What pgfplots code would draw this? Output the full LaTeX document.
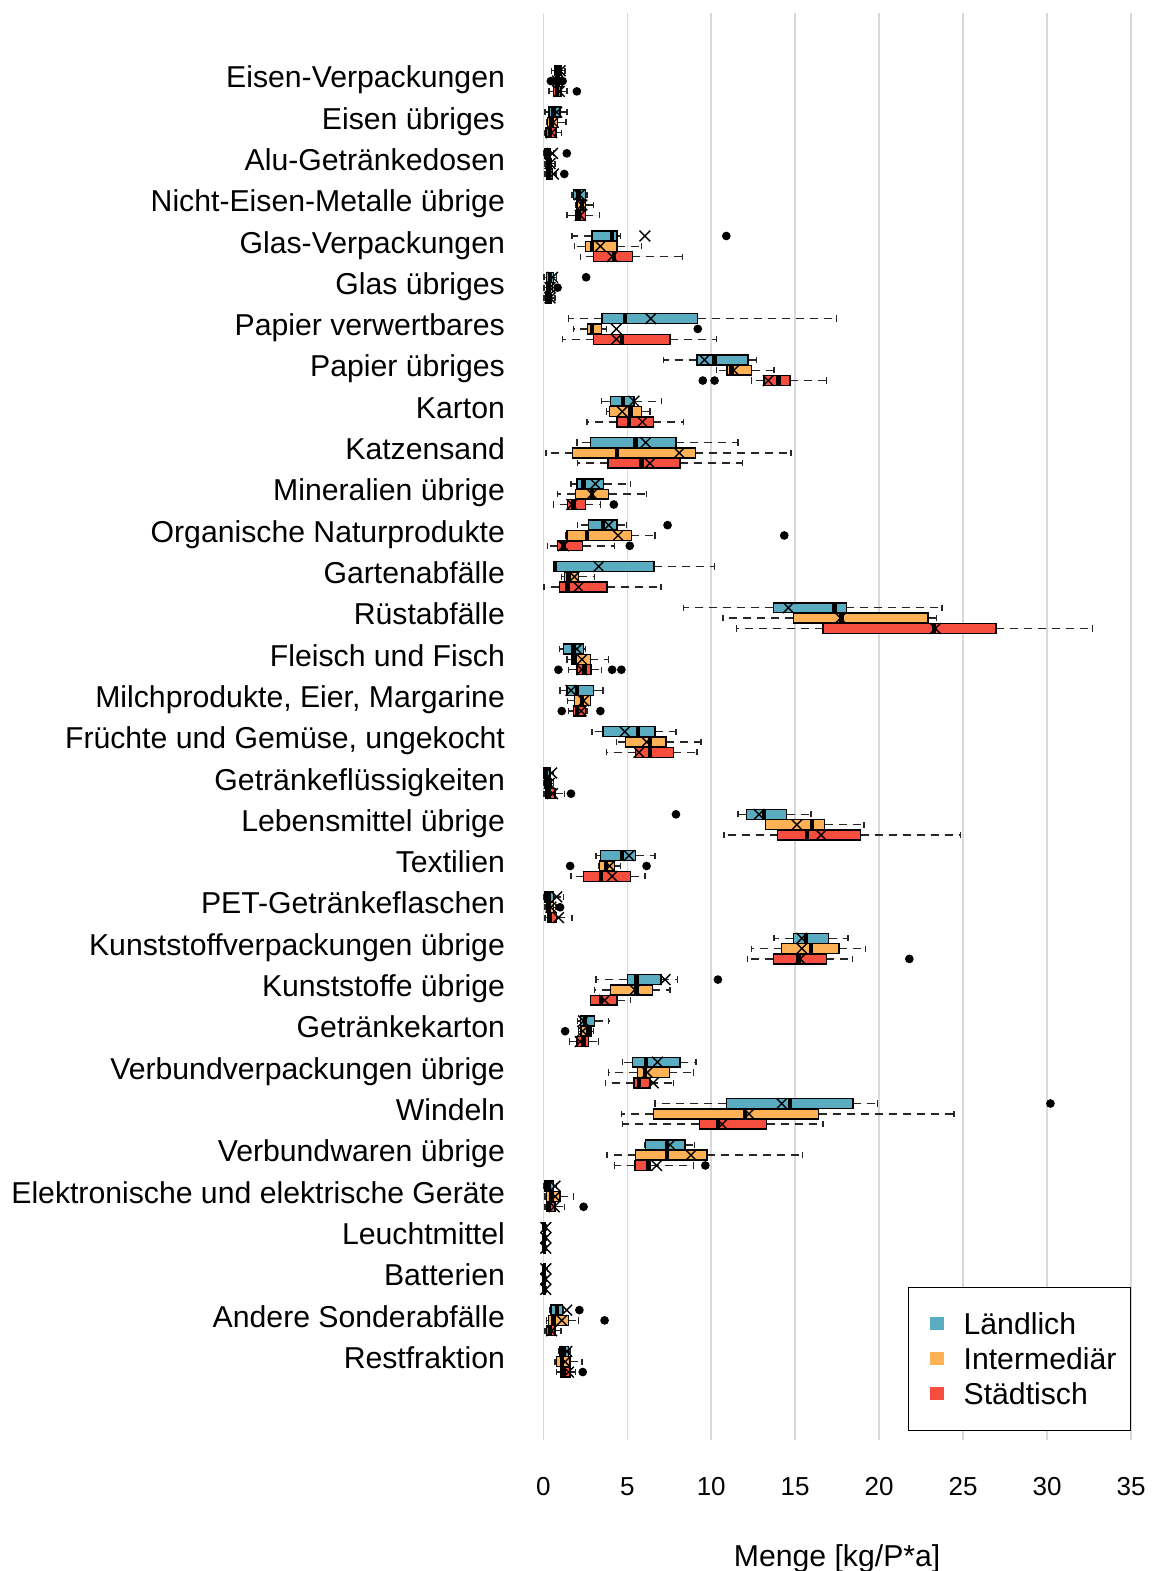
\documentclass[border=0pt]{standalone}
\usepackage{pgfplots}
\pgfplotsset{compat=1.18}
\usepgfplotslibrary{statistics}
\usetikzlibrary{calc}
\usepackage{fontspec}
\setmainfont{Liberation Sans}
\definecolor{cL}{RGB}{90,172,192}
\definecolor{cI}{RGB}{255,178,85}
\definecolor{cR}{RGB}{245,77,62}
\definecolor{gridc}{RGB}{217,217,217}
\pgfplotsset{bxs/.style={
    forget plot, draw=black, line width=0.7pt, solid,
    mark=*, mark size=1.8pt, mark options={fill=black, draw=black, solid},
    boxplot/draw direction=x,
    boxplot/box extend=0.24,
    boxplot/whisker extend=0.15,
    boxplot/every whisker/.style={dash pattern=on 4pt off 3pt, line width=0.7pt, draw=black!85},
    boxplot/every median/.style={line width=2.2pt, draw=black},
    boxplot/every average/.style={/tikz/mark=x, /tikz/mark size=3.8pt, /tikz/line width=0.75pt, /tikz/draw=black, /tikz/solid},
}}
\newcommand{\bp}[9]{\addplot[bxs, fill=#1, boxplot prepared={draw position=#2, lower whisker=#3, lower quartile=#4, median=#5, upper quartile=#6, upper whisker=#7, average=#8}] coordinates {#9};}
\begin{document}
\begin{tikzpicture}
\begin{axis}[
 scale only axis, width=293.85pt, height=713.5pt,
 xmin=0, xmax=35, ymin=-33.895, ymax=0.648,
 clip=false,
 axis line style={draw=none},
 xtick={0,5,...,35}, xmajorgrids, major grid style={gridc, line width=0.75pt},
 ytick={-32,-31,...,-1},
 yticklabels={Restfraktion, Andere Sonderabfälle, Batterien, Leuchtmittel, Elektronische und elektrische Geräte, Verbundwaren übrige, Windeln, Verbundverpackungen übrige, Getränkekarton, Kunststoffe übrige, Kunststoffverpackungen übrige, PET-Getränkeflaschen, Textilien, Lebensmittel übrige, Getränkeflüssigkeiten, {Früchte und Gemüse, ungekocht}, {Milchprodukte, Eier, Margarine}, Fleisch und Fisch, Rüstabfälle, Gartenabfälle, Organische Naturprodukte, Mineralien übrige, Katzensand, Karton, Papier übriges, Papier verwertbares, Glas übriges, Glas-Verpackungen, Nicht-Eisen-Metalle übrige, Alu-Getränkedosen, Eisen übriges, Eisen-Verpackungen},
 tick style={draw=none},
 /pgf/number format/assume math mode=true,
 xticklabel style={font=\fontsize{13}{15}\selectfont, inner sep=0pt, anchor=center, yshift=-23.5pt},
 yticklabel style={font=\fontsize{15.1}{18}\selectfont, inner sep=0pt, anchor=east, xshift=-19pt, yshift=0.5pt, text height=10.9pt, text depth=3.2pt},
 xlabel={Menge [kg/P*a]},
 xlabel style={font=\fontsize{15.1}{18}\selectfont, at={(rel axis cs:0.5,0)}, anchor=center, yshift=-59.5pt, inner sep=0pt},
 legend style={at={(1,0)}, anchor=south east, yshift=4.5pt, draw=black, line width=0.6pt, fill=white, font=\fontsize{15.1}{18}\selectfont, inner xsep=5pt, inner ysep=10.8pt, row sep=2.5pt, column sep=8pt, nodes={inner sep=2pt, text height=11pt, text depth=0pt}, cells={anchor=west}},
 legend image code/.code={\path (0pt,0pt); \fill[#1] (6pt,-3.3pt) rectangle (12.6pt,3.3pt);},
]
\addlegendimage{fill=cL, draw=none}\addlegendentry{Ländlich}
\addlegendimage{fill=cI, draw=none}\addlegendentry{Intermediär}
\addlegendimage{fill=cR, draw=none}\addlegendentry{Städtisch}
% 1 Eisen-Verpackungen
\bp{cL}{-0.75}{0.5}{0.7}{0.9}{1.1}{1.3}{1.0}{}
\bp{cI}{-1}{0.65}{0.75}{0.85}{0.95}{1.0}{0.85}{(0,0.45) (0,1.15)}
\bp{cR}{-1.25}{0.35}{0.6}{0.8}{1.05}{1.4}{0.95}{(0,2.0)}
% 2 Eisen übriges
\bp{cL}{-1.75}{0.1}{0.35}{0.6}{1.0}{1.4}{0.8}{}
\bp{cI}{-2}{0.2}{0.25}{0.5}{0.85}{1.35}{0.6}{}
\bp{cR}{-2.25}{0.1}{0.15}{0.4}{0.75}{1.1}{0.5}{}
% 3 Alu
\bp{cL}{-2.75}{0.05}{0.1}{0.2}{0.4}{0.6}{0.55}{(0,1.4)}
\bp{cI}{-3}{0.1}{0.2}{0.35}{0.5}{0.7}{0.4}{}
\bp{cR}{-3.25}{0.1}{0.2}{0.35}{0.55}{0.8}{0.6}{(0,1.25)}
% 4 NE-Metalle
\bp{cL}{-3.75}{1.7}{1.8}{2.1}{2.5}{2.6}{2.15}{}
\bp{cI}{-4}{1.9}{2.0}{2.3}{2.5}{3.0}{2.3}{}
\bp{cR}{-4.25}{1.4}{1.9}{2.1}{2.5}{3.35}{2.2}{}
% 5 Glas-V
\bp{cL}{-4.75}{1.7}{2.9}{4.1}{4.4}{4.6}{6.05}{(0,10.9)}
\bp{cI}{-5}{1.85}{2.5}{2.9}{4.4}{5.85}{3.4}{}
\bp{cR}{-5.25}{2.2}{3.0}{4.2}{5.3}{8.3}{4.1}{}
% 6 Glas übriges
\bp{cL}{-5.75}{0.05}{0.2}{0.4}{0.6}{0.8}{0.55}{(0,2.55)}
\bp{cI}{-6}{0.05}{0.2}{0.35}{0.55}{0.7}{0.4}{(0,0.85)}
\bp{cR}{-6.25}{0.05}{0.15}{0.3}{0.5}{0.7}{0.4}{}
% 7 Papier verwertbares
\bp{cL}{-6.75}{1.5}{3.5}{4.85}{9.2}{17.45}{6.4}{}
\bp{cI}{-7}{1.8}{2.65}{2.9}{3.45}{3.75}{4.35}{(0,9.2)}
\bp{cR}{-7.25}{1.15}{3.0}{4.7}{7.55}{10.3}{4.35}{}
% 8 Papier übriges
\bp{cL}{-7.75}{7.15}{9.15}{10.2}{12.2}{12.7}{9.6}{}
\bp{cI}{-8}{10.3}{10.95}{11.2}{12.4}{13.75}{11.35}{}
\bp{cR}{-8.25}{12.4}{13.15}{14.0}{14.7}{16.85}{13.4}{(0,9.5) (0,10.2)}
% 9 Karton
\bp{cL}{-8.75}{3.45}{4.0}{4.75}{5.4}{7.05}{5.4}{}
\bp{cI}{-9}{3.75}{3.95}{5.2}{5.85}{6.35}{4.7}{}
\bp{cR}{-9.25}{2.6}{4.4}{5.1}{6.55}{8.35}{5.9}{}
% 10 Katzensand
\bp{cL}{-9.75}{2.0}{2.8}{5.5}{7.9}{11.6}{6.1}{}
\bp{cI}{-10}{0.15}{1.75}{4.4}{9.05}{14.75}{8.1}{}
\bp{cR}{-10.25}{2.05}{3.85}{5.85}{8.15}{11.85}{6.35}{}
% 11 Mineralien
\bp{cL}{-10.75}{1.65}{2.0}{2.4}{3.6}{5.2}{3.1}{}
\bp{cI}{-11}{0.85}{1.9}{2.9}{3.9}{6.15}{2.9}{}
\bp{cR}{-11.25}{0.6}{1.45}{1.8}{2.5}{3.4}{1.7}{(0,4.2)}
% 12 Organische
\bp{cL}{-11.75}{2.05}{2.7}{3.55}{4.4}{4.95}{3.9}{(0,7.4)}
\bp{cI}{-12}{1.35}{1.4}{2.6}{5.25}{6.65}{4.45}{(0,14.35)}
\bp{cR}{-12.25}{0.25}{0.85}{1.2}{2.35}{4.25}{1.2}{(0,5.15)}
% 13 Garten
\bp{cL}{-12.75}{0.6}{0.6}{0.7}{6.6}{10.2}{3.3}{}
\bp{cI}{-13}{1.1}{1.25}{1.5}{2.1}{3.05}{1.85}{}
\bp{cR}{-13.25}{0.05}{0.95}{1.45}{3.8}{7.0}{2.1}{}
% 14 Rüst
\bp{cL}{-13.75}{8.35}{13.7}{17.35}{18.05}{23.75}{14.6}{}
\bp{cI}{-14}{10.7}{14.9}{17.75}{22.9}{23.4}{17.7}{}
\bp{cR}{-14.25}{11.5}{16.65}{23.25}{26.95}{32.7}{23.35}{}
% 15 Fleisch
\bp{cL}{-14.75}{0.95}{1.2}{1.8}{2.4}{2.5}{2.0}{}
\bp{cI}{-15}{1.4}{1.7}{1.85}{2.8}{3.9}{2.3}{}
\bp{cR}{-15.25}{1.5}{2.0}{2.45}{2.85}{3.45}{2.3}{(0,0.9) (0,4.1) (0,4.65)}
% 16 Milch
\bp{cL}{-15.75}{1.0}{1.4}{2.0}{3.0}{3.55}{1.65}{}
\bp{cI}{-16}{1.45}{1.85}{2.3}{2.8}{2.8}{2.4}{}
\bp{cR}{-16.25}{1.5}{1.8}{2.0}{2.5}{2.6}{2.25}{(0,1.1) (0,3.4)}
% 17 Früchte
\bp{cL}{-16.75}{2.9}{3.55}{5.65}{6.65}{7.9}{4.85}{}
\bp{cI}{-17}{4.35}{4.9}{6.35}{7.3}{9.4}{6.15}{}
\bp{cR}{-17.25}{3.75}{5.5}{6.35}{7.75}{9.15}{5.7}{}
% 18 Getränkeflüssigkeiten
\bp{cL}{-17.75}{0.0}{0.05}{0.15}{0.4}{0.6}{0.5}{}
\bp{cI}{-18}{0.0}{0.1}{0.25}{0.45}{0.6}{0.35}{}
\bp{cR}{-18.25}{0.05}{0.15}{0.35}{0.7}{1.25}{0.55}{(0,1.65)}
% 19 Lebensmittel
\bp{cL}{-18.75}{11.6}{12.1}{13.15}{14.5}{15.95}{12.85}{(0,7.9)}
\bp{cI}{-19}{13.25}{13.25}{16.0}{16.75}{19.1}{15.1}{}
\bp{cR}{-19.25}{10.75}{13.95}{15.7}{18.9}{24.85}{16.55}{}
% 20 Textilien
\bp{cL}{-19.75}{3.15}{3.4}{4.7}{5.5}{6.65}{5.1}{}
\bp{cI}{-20}{3.3}{3.35}{3.75}{4.25}{4.6}{3.95}{(0,1.6) (0,6.15)}
\bp{cR}{-20.25}{1.65}{2.4}{3.45}{5.2}{6.05}{4.1}{}
% 21 PET
\bp{cL}{-20.75}{0.05}{0.1}{0.3}{0.6}{1.2}{0.8}{}
\bp{cI}{-21}{0.1}{0.2}{0.35}{0.6}{0.75}{0.45}{(0,1.0)}
\bp{cR}{-21.25}{0.1}{0.25}{0.4}{0.8}{1.7}{0.9}{}
% 22 Kunststoffverp
\bp{cL}{-21.75}{13.75}{14.9}{15.65}{17.0}{18.15}{15.4}{}
\bp{cI}{-22}{12.4}{14.2}{15.95}{17.6}{19.2}{15.4}{}
\bp{cR}{-22.25}{12.15}{13.7}{15.2}{16.85}{18.4}{15.3}{(0,21.8)}
% 23 Kunststoffe übrige
\bp{cL}{-22.75}{3.15}{5.0}{5.55}{7.0}{8.0}{7.25}{(0,10.4)}
\bp{cI}{-23}{3.05}{4.0}{5.55}{6.5}{7.55}{5.45}{}
\bp{cR}{-23.25}{2.8}{2.8}{3.45}{4.4}{5.2}{3.65}{}
% 24 Getränkekarton
\bp{cL}{-23.75}{2.05}{2.2}{2.5}{3.05}{3.9}{2.4}{}
\bp{cI}{-24}{2.1}{2.25}{2.7}{2.85}{3.0}{2.35}{(0,1.3)}
\bp{cR}{-24.25}{1.55}{2.0}{2.4}{2.7}{3.3}{2.2}{}
% 25 Verbundverp
\bp{cL}{-24.75}{4.7}{5.3}{6.1}{8.15}{9.1}{6.8}{}
\bp{cI}{-25}{3.9}{5.6}{6.05}{7.5}{8.95}{6.2}{}
\bp{cR}{-25.25}{3.7}{5.4}{5.7}{6.35}{7.75}{6.55}{}
% 26 Windeln
\bp{cL}{-25.75}{6.65}{10.9}{14.7}{18.45}{19.9}{14.2}{(0,30.2)}
\bp{cI}{-26}{4.65}{6.55}{12.0}{16.4}{24.45}{12.25}{}
\bp{cR}{-26.25}{4.7}{9.3}{10.4}{13.3}{16.65}{10.65}{}
% 27 Verbundwaren
\bp{cL}{-26.75}{6.05}{6.1}{7.35}{8.45}{9.0}{7.55}{}
\bp{cI}{-27}{3.8}{5.5}{7.35}{9.75}{15.45}{8.8}{}
\bp{cR}{-27.25}{4.25}{5.45}{6.25}{6.4}{8.95}{6.75}{(0,9.65)}
% 28 Elektronik
\bp{cL}{-27.75}{0.05}{0.1}{0.3}{0.6}{0.8}{0.7}{}
\bp{cI}{-28}{0.1}{0.2}{0.5}{1.0}{1.8}{0.7}{}
\bp{cR}{-28.25}{0.1}{0.2}{0.35}{0.7}{1.25}{0.65}{(0,2.4)}
% 29 Leuchtmittel
\bp{cL}{-28.75}{0.0}{0.02}{0.05}{0.1}{0.2}{0.15}{}
\bp{cI}{-29}{0.0}{0.02}{0.05}{0.1}{0.2}{0.15}{}
\bp{cR}{-29.25}{0.0}{0.02}{0.05}{0.1}{0.2}{0.15}{}
% 30 Batterien
\bp{cL}{-29.75}{0.0}{0.02}{0.05}{0.12}{0.25}{0.15}{}
\bp{cI}{-30}{0.0}{0.02}{0.05}{0.1}{0.2}{0.15}{}
\bp{cR}{-30.25}{0.0}{0.02}{0.05}{0.1}{0.2}{0.15}{}
% 31 Andere Sonder
\bp{cL}{-30.75}{0.4}{0.45}{0.8}{1.15}{1.2}{1.4}{(0,2.15)}
\bp{cI}{-31}{0.2}{0.3}{0.6}{1.5}{2.1}{1.1}{(0,3.65)}
\bp{cR}{-31.25}{0.1}{0.2}{0.4}{0.7}{1.05}{0.5}{}
% 32 Restfraktion
\bp{cL}{-31.75}{0.9}{1.0}{1.2}{1.5}{1.6}{1.4}{}
\bp{cI}{-32}{0.7}{0.8}{1.1}{1.6}{2.3}{1.3}{}
\bp{cR}{-32.25}{0.8}{1.05}{1.25}{1.6}{1.9}{1.5}{(0,2.35)}
\end{axis}
\pgfresetboundingbox
\path[use as bounding box] ($(current axis.south west)+(-271.65pt,-65.5pt)$) rectangle ($(current axis.north east)+(10pt,6.5pt)$);
\end{tikzpicture}
\end{document}
